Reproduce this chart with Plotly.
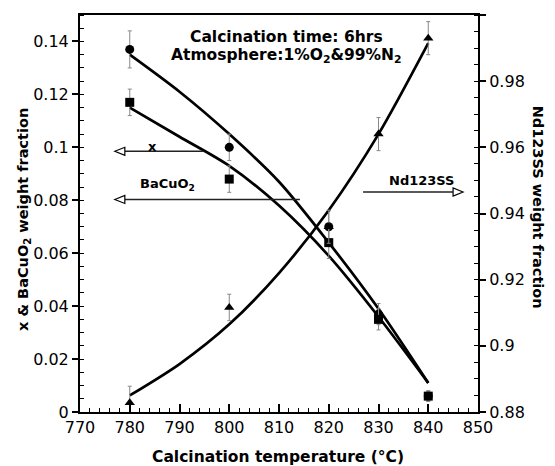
import plotly.graph_objects as go

# Measured data points
temps = [780, 800, 820, 830, 840]
x_frac = [0.137, 0.100, 0.070, 0.037, 0.006]
x_err = [0.007, 0.005, 0.006, 0.004, 0.002]
bacuo2_frac = [0.117, 0.088, 0.064, 0.035, 0.006]
bacuo2_err = [0.005, 0.005, 0.006, 0.004, 0.002]
nd123_frac = [0.8828, 0.9116, 0.936, 0.964, 0.993]
nd123_err = [0.005, 0.004, 0.005, 0.005, 0.005]

# Fitted curves
fit_temps = [780, 790, 800, 810, 820, 830, 840]
x_fit = [0.135, 0.121, 0.105, 0.087, 0.064, 0.039, 0.011]
bacuo2_fit = [0.115, 0.104, 0.093, 0.078, 0.059, 0.036, 0.011]
nd123_fit = [0.885, 0.8945, 0.9065, 0.922, 0.941, 0.964, 0.9915]

FONT = "DejaVu Sans"
BLACK = "#000000"

fig = go.Figure()

line_style = dict(color=BLACK, width=2.7, shape="spline", smoothing=0.8)
err_style = dict(type="data", visible=True, color="#888888", thickness=1, width=2)

fig.add_trace(go.Scatter(x=fit_temps, y=x_fit, mode="lines", line=line_style,
                         showlegend=False, hoverinfo="skip"))
fig.add_trace(go.Scatter(x=fit_temps, y=bacuo2_fit, mode="lines", line=line_style,
                         showlegend=False, hoverinfo="skip"))
fig.add_trace(go.Scatter(x=fit_temps, y=nd123_fit, mode="lines", line=line_style,
                         yaxis="y2", showlegend=False, hoverinfo="skip"))

fig.add_trace(go.Scatter(x=temps, y=x_frac, mode="markers", name="x",
                         marker=dict(symbol="circle", size=9, color=BLACK),
                         error_y=dict(array=x_err, **err_style), showlegend=False))
fig.add_trace(go.Scatter(x=temps, y=bacuo2_frac, mode="markers", name="BaCuO2",
                         marker=dict(symbol="square", size=9, color=BLACK),
                         error_y=dict(array=bacuo2_err, **err_style), showlegend=False))
fig.add_trace(go.Scatter(x=temps, y=nd123_frac, mode="markers", name="Nd123SS",
                         yaxis="y2",
                         marker=dict(symbol="triangle-up", size=9, color=BLACK),
                         error_y=dict(array=nd123_err, **err_style), showlegend=False))

tickfont = dict(family=FONT, size=16, color=BLACK)
bold = dict(family=FONT, size=14.5, color=BLACK)
xtitle_font = dict(family=FONT, size=15.5, color=BLACK)
note = dict(family=FONT, size=15.5, color=BLACK)
small = dict(family=FONT, size=13, color=BLACK)

# the page body has an 8px margin; figure is sized so it fits the 555x466 window
fig.update_layout(
    width=547, height=458,
    margin=dict(l=72, r=77, t=7, b=54, autoexpand=False),
    paper_bgcolor="white", plot_bgcolor="white",
    xaxis=dict(range=[770, 850], tick0=770, dtick=10, ticks="inside", ticklen=8,
               tickwidth=1.5, tickcolor=BLACK, automargin=False,
               minor=dict(dtick=2, ticks="inside", ticklen=4, tickcolor=BLACK, tickwidth=1),
               showline=True, linecolor=BLACK, linewidth=2, mirror=True,
               showgrid=False, zeroline=False, tickfont=tickfont),
    yaxis=dict(range=[0, 0.15], tick0=0, dtick=0.02, ticks="outside", ticklen=6,
               tickwidth=1.5, tickcolor=BLACK, automargin=False,
               minor=dict(dtick=0.005, ticks="inside", ticklen=4, tickcolor=BLACK, tickwidth=1),
               showline=True, linecolor=BLACK, linewidth=2,
               showgrid=False, zeroline=False, tickfont=tickfont),
    yaxis2=dict(range=[0.88, 1.0], tick0=0.88, dtick=0.02, ticks="outside", ticklen=6,
                tickwidth=1.5, tickcolor=BLACK, overlaying="y", side="right",
                automargin=False,
                minor=dict(dtick=0.005, ticks="inside", ticklen=4, tickcolor=BLACK, tickwidth=1),
                showline=True, linecolor=BLACK, linewidth=2,
                showgrid=False, zeroline=False, tickfont=tickfont),
)

annotations = [
    dict(text="<b>Calcination time: 6hrs</b>", x=811.6, y=0.1417, xref="x", yref="y",
         showarrow=False, font=note, xanchor="center", yanchor="middle"),
    dict(text="<b>Atmosphere:1%O<sub>2</sub>&99%N<sub>2</sub></b>", x=811.6, y=0.1345,
         xref="x", yref="y", showarrow=False, font=note, xanchor="center", yanchor="middle"),
    dict(text="<b>x</b>", x=784.5, y=0.1005, xref="x", yref="y", showarrow=False,
         font=small, xanchor="center", yanchor="middle"),
    dict(text="<b>BaCuO<sub>2</sub></b>", x=787.5, y=0.0858, xref="x", yref="y",
         showarrow=False, font=small, xanchor="center", yanchor="middle"),
    dict(text="<b>Nd123SS</b>", x=845.6, y=0.9501, xref="x", yref="y2", showarrow=False,
         font=small, xanchor="right", yanchor="middle"),
    dict(text="<b>Calcination temperature (°C)</b>", x=0.4987, y=-0.1134,
         xref="paper", yref="paper", showarrow=False, font=xtitle_font,
         xanchor="center", yanchor="middle"),
    dict(text="<b>x & BaCuO<sub>2</sub> weight fraction</b>", x=-0.1407, y=0.4836,
         xref="paper", yref="paper", showarrow=False, font=bold, textangle=-90,
         xanchor="center", yanchor="middle"),
    dict(text="<b>Nd123SS weight fraction</b>", x=1.153, y=0.515,
         xref="paper", yref="paper", showarrow=False, font=bold, textangle=90,
         xanchor="center", yanchor="middle"),
]
fig.update_layout(annotations=annotations)

shapes = [
    # x arrow
    dict(type="line", x0=779.05, x1=794.7, y0=0.0985, y1=0.0985, xref="x", yref="y",
         line=dict(color="#222222", width=1.5)),
    dict(type="path", xref="x", yref="y", xsizemode="pixel", ysizemode="pixel",
         xanchor=777, yanchor=0.0985, path="M0,0 L10,4 L10,-4 Z",
         fillcolor="white", line=dict(color=BLACK, width=1.2)),
    # BaCuO2 arrow
    dict(type="line", x0=779.05, x1=814.2, y0=0.0803, y1=0.0803, xref="x", yref="y",
         line=dict(color="#222222", width=1.5)),
    dict(type="path", xref="x", yref="y", xsizemode="pixel", ysizemode="pixel",
         xanchor=777, yanchor=0.0803, path="M0,0 L10,4 L10,-4 Z",
         fillcolor="white", line=dict(color=BLACK, width=1.2)),
    # Nd123SS arrow
    dict(type="line", x0=826.9, x1=845.0, y0=0.9465, y1=0.9465, xref="x", yref="y2",
         line=dict(color="#222222", width=1.5)),
    dict(type="path", xref="x", yref="y2", xsizemode="pixel", ysizemode="pixel",
         xanchor=847.0, yanchor=0.9465, path="M0,0 L-10,4 L-10,-4 Z",
         fillcolor="white", line=dict(color=BLACK, width=1.2)),
]
fig.update_layout(shapes=shapes)

fig.write_html("out.html")
